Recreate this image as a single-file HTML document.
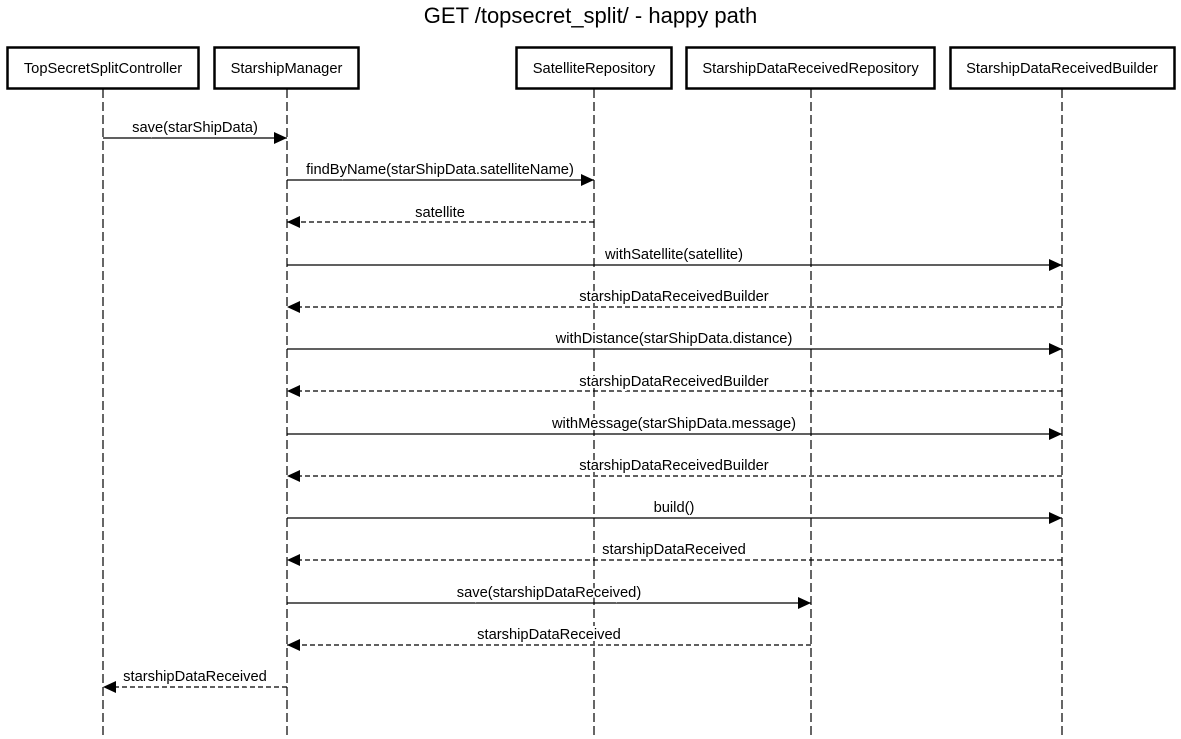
<!DOCTYPE html>
<html><head><meta charset="utf-8"><style>
html,body{margin:0;padding:0;background:#fff;}
svg{display:block;font-family:"Liberation Sans",sans-serif;}
</style></head><body>
<svg width="1181" height="739" viewBox="0 0 1181 739" xmlns="http://www.w3.org/2000/svg">
<defs>
<marker id="a" markerWidth="14" markerHeight="12" refX="13" refY="6" orient="auto" markerUnits="userSpaceOnUse">
<path d="M0,0 L13,6 L0,12 z" fill="#000"/></marker>
</defs>
<text x="590.5" y="23" font-size="22" text-anchor="middle">GET /topsecret_split/ - happy path</text>
<g stroke="#000" stroke-width="1.2" stroke-dasharray="9,4" fill="none">
<line x1="103" y1="89" x2="103" y2="739"/>
<line x1="287" y1="89" x2="287" y2="739"/>
<line x1="594" y1="89" x2="594" y2="739"/>
<line x1="811" y1="89" x2="811" y2="739"/>
<line x1="1062" y1="89" x2="1062" y2="739"/>
</g>
<g stroke="#000" stroke-width="2.5" fill="#fff">
<rect x="7.5" y="47.5" width="191" height="41"/>
<rect x="214.5" y="47.5" width="144" height="41"/>
<rect x="516.5" y="47.5" width="155" height="41"/>
<rect x="686.5" y="47.5" width="248" height="41"/>
<rect x="950.5" y="47.5" width="224" height="41"/>
</g>
<g font-size="14.7" text-anchor="middle">
<text x="103" y="73">TopSecretSplitController</text>
<text x="286.5" y="73">StarshipManager</text>
<text x="594" y="73">SatelliteRepository</text>
<text x="810.5" y="73">StarshipDataReceivedRepository</text>
<text x="1062" y="73">StarshipDataReceivedBuilder</text>
</g>
<g stroke="#000" stroke-width="1.2" fill="none" marker-end="url(#a)">
<line x1="103" y1="138" x2="287" y2="138"/>
<line x1="287" y1="180" x2="594" y2="180"/>
<line x1="594" y1="222" x2="287" y2="222" stroke-dasharray="5,3"/>
<line x1="287" y1="265" x2="1062" y2="265"/>
<line x1="1062" y1="307" x2="287" y2="307" stroke-dasharray="5,3"/>
<line x1="287" y1="349" x2="1062" y2="349"/>
<line x1="1062" y1="391" x2="287" y2="391" stroke-dasharray="5,3"/>
<line x1="287" y1="434" x2="1062" y2="434"/>
<line x1="1062" y1="476" x2="287" y2="476" stroke-dasharray="5,3"/>
<line x1="287" y1="518" x2="1062" y2="518"/>
<line x1="1062" y1="560" x2="287" y2="560" stroke-dasharray="5,3"/>
<line x1="287" y1="603" x2="811" y2="603"/>
<line x1="811" y1="645" x2="287" y2="645" stroke-dasharray="5,3"/>
<line x1="287" y1="687" x2="103" y2="687" stroke-dasharray="5,3"/>
</g>
<g font-size="14.7" text-anchor="middle" stroke="#fff" stroke-width="4" paint-order="stroke" fill="#000">
<text x="195" y="132">save(starShipData)</text>
<text x="440" y="174">findByName(starShipData.satelliteName)</text>
<text x="440" y="217">satellite</text>
<text x="674" y="259">withSatellite(satellite)</text>
<text x="674" y="301">starshipDataReceivedBuilder</text>
<text x="674" y="343">withDistance(starShipData.distance)</text>
<text x="674" y="386">starshipDataReceivedBuilder</text>
<text x="674" y="428">withMessage(starShipData.message)</text>
<text x="674" y="470">starshipDataReceivedBuilder</text>
<text x="674" y="512">build()</text>
<text x="674" y="554">starshipDataReceived</text>
<text x="549" y="597">save(starshipDataReceived)</text>
<text x="549" y="639">starshipDataReceived</text>
<text x="195" y="681">starshipDataReceived</text>
</g>
</svg>
</body></html>
